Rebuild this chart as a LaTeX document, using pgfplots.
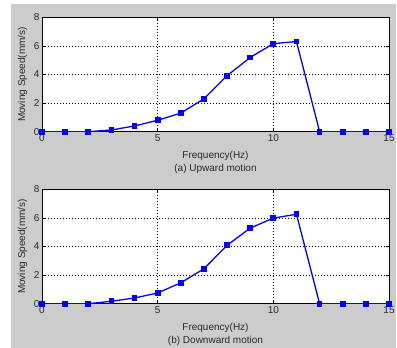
\documentclass[border=0pt]{standalone}
\usepackage{pgfplots}
\pgfplotsset{compat=1.18}
\usepackage{fontspec}
\setmainfont{Liberation Sans}
\definecolor{bggray}{RGB}{204,204,204}
\definecolor{txt}{RGB}{40,40,40}
\pgfplotsset{
  matfig/.style={
    scale only axis, width=347bp, height=114.5bp,
    xmin=0, xmax=15, ymin=0, ymax=8,
    xtick={0,5,10,15}, ytick={0,2,4,6,8},
    grid=major,
    major grid style={black, dash pattern=on 1bp off 2bp, line width=0.5pt},
    axis background/.style={fill=white},
    axis line style={black, line width=0.5pt},
    tick style={black, line width=0.5pt},
    major tick length=3bp,
    tick align=inside,
    font=\fontsize{10bp}{12bp}\selectfont,
    tick label style={font=\fontsize{10bp}{12bp}\selectfont, text=txt},
    label style={font=\fontsize{10bp}{12bp}\selectfont, text=txt},
    /pgf/number format/assume math mode=true,
    xticklabel style={yshift=1bp},
    yticklabel style={xshift=1bp},
    ylabel={Moving Speed(mm/s)},
    ylabel style={yshift=0bp},
    xlabel style={align=center, yshift=-3bp},
  },
  matline/.style={blue, line width=1.3pt, mark=square*, mark size=2.2bp, mark options={solid, fill=blue}},
}
\begin{document}
\begin{tikzpicture}[x=1bp,y=1bp]
\useasboundingbox (0,0) rectangle (397,348);
\fill[bggray] (11,0) rectangle (396,344);
\begin{axis}[matfig, at={(42bp,216.3bp)}, anchor=south west,
  xlabel={Frequency(Hz)\\[1bp](a) Upward motion}]
\addplot[matline] coordinates {
(0,0) (1,0) (2,0) (3,0.12) (4,0.40) (5,0.80) (6,1.30) (7,2.30) (8,3.91) (9,5.19) (10,6.15) (11,6.30) (12,0) (13,0) (14,0) (15,0)};
\end{axis}
\begin{axis}[matfig, at={(42bp,44.3bp)}, anchor=south west,
  xlabel={Frequency(Hz)\\[1bp](b) Downward motion}]
\addplot[matline] coordinates {
(0,0) (1,0) (2,0) (3,0.17) (4,0.40) (5,0.75) (6,1.46) (7,2.44) (8,4.08) (9,5.28) (10,5.98) (11,6.25) (12,0) (13,0) (14,0) (15,0)};
\end{axis}
\end{tikzpicture}
\end{document}
